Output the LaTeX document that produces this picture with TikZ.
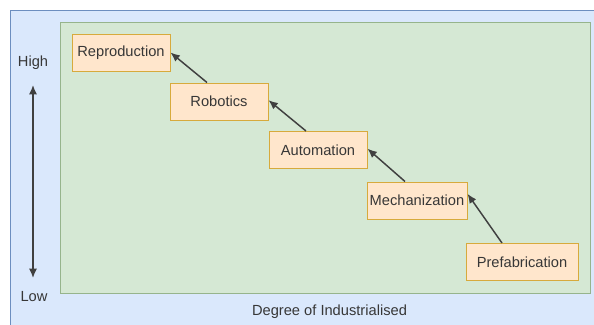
\documentclass[tikz,border=0pt]{standalone}
\usepackage{fontspec}
\setmainfont{Liberation Sans}
\usetikzlibrary{arrows.meta}

\definecolor{paneblue}{RGB}{218,232,252}
\definecolor{paneblueline}{RGB}{108,142,191}
\definecolor{panegreen}{RGB}{213,232,212}
\definecolor{panegreenline}{RGB}{150,180,140}
\definecolor{stagefill}{RGB}{255,230,204}
\definecolor{stageline}{RGB}{215,170,60}
\definecolor{labelgrey}{RGB}{55,55,55}

\tikzset{every picture/.style={line width=0.75pt},
  stage/.style={draw=stageline, fill=stagefill, text=labelgrey, inner sep=0pt,
    minimum width=73.5pt, minimum height=27.75pt, font=\fontsize{11}{13}\selectfont},
  axislabel/.style={text=labelgrey, inner sep=0.75pt, font=\fontsize{11}{13}\selectfont},
  stepup/.style={-{Latex[length=7pt,width=6pt]}, draw=black!75, line width=1.1pt}}

\begin{document}
\begin{tikzpicture}[x=0.75pt,y=0.75pt,yscale=-1,xscale=1]
        \useasboundingbox (0,0) rectangle (594,325);
        \clip (0,0) rectangle (594,325);

        %Shape: Rectangle [id:outer]
        \draw [draw=paneblueline, fill=paneblue] (10,10) rectangle (610,340);
        %Shape: Rectangle [id:inner]
        \draw [draw=panegreenline, fill=panegreen] (60,22) rectangle (590,293);

        % Stage boxes
        \node [stage] (repro) at (121,52.5) {Reproduction};
        \node [stage] (robot) at (219,101.5) {Robotics};
        \node [stage] (autom) at (318,150) {Automation};
        \node [stage, minimum width=75pt] (mech) at (417,200.5) {Mechanization};
        \node [stage, minimum width=84pt] (prefab) at (522,262) {Prefabrication};

        % Arrows between stages
        \draw [stepup] ([xshift=-9pt]robot.north) -- (repro.east);
        \draw [stepup] ([xshift=-9pt]autom.north) -- ([yshift=-1pt]robot.east);
        \draw [stepup] ([xshift=-9pt]mech.north) -- ([yshift=-1pt]autom.east);
        \draw [stepup] ([xshift=-15pt]prefab.north) -- ([yshift=-5pt]mech.east);

        % Vertical scale
        \node [axislabel] (high) at (33,63) {High};
        \node [axislabel] (low) at (34,297) {Low};
        \coordinate (axtop) at (33,85);
        \coordinate (axbot) at (33,278);
        \draw [{Latex[length=7pt,width=6pt]}-{Latex[length=7pt,width=6pt]}, draw=black!75, line width=1.1pt] (axtop) -- (axbot);

        % Text Node
        \node [axislabel] (degree) at (329.5,312) {Degree of Industrialised};
\end{tikzpicture}
\end{document}
